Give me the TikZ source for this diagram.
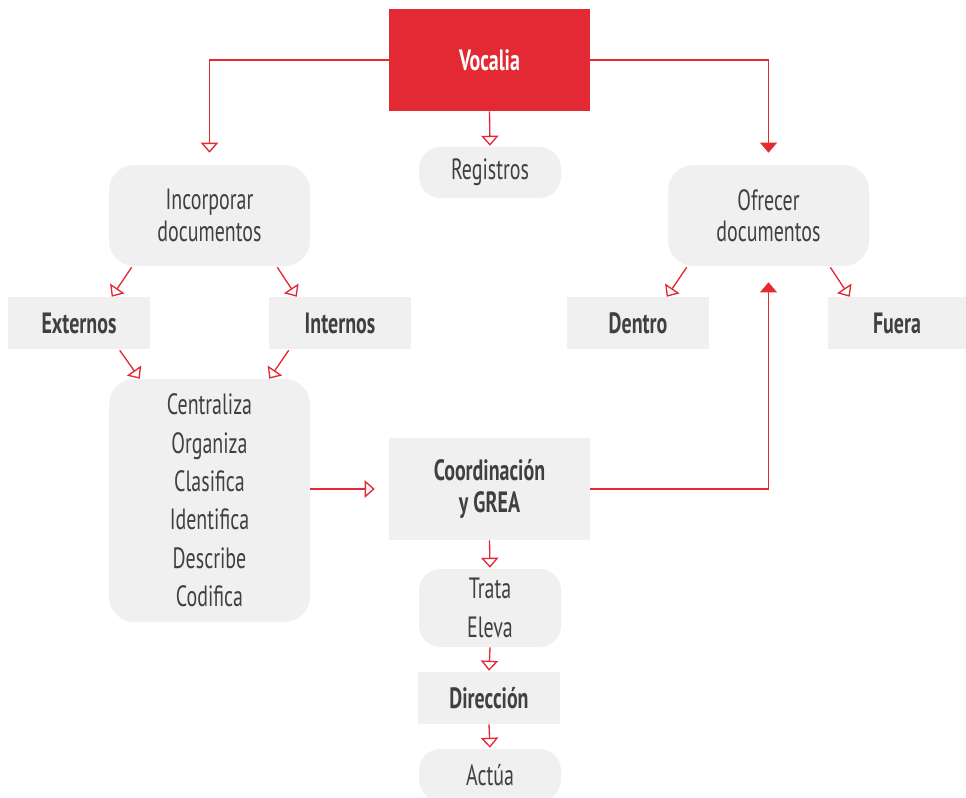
\documentclass[tikz,border=0pt]{standalone}
\usepackage{fontspec}
\setmainfont[FakeStretch=0.68]{PT Sans}
\usetikzlibrary{arrows.meta,calc}
\definecolor{vred}{RGB}{227,41,52}
\definecolor{vgray}{RGB}{240,240,240}
\definecolor{vtext}{RGB}{64,64,64}
\begin{document}
\begin{tikzpicture}[x=0.75pt,y=-0.75pt,
  box/.style={fill=vgray,draw=none,inner sep=0pt,align=center,text=vtext},
  rbig/.style={box,rounded corners=19pt,minimum width=150.75pt},
  rsmall/.style={box,rounded corners=16pt,minimum width=106.5pt},
  rect/.style={box,minimum width=106.5pt,minimum height=39pt,font=\fontsize{22}{24}\selectfont\bfseries},
  two/.style={font=\fontsize{22}{23.5}\selectfont},
  list/.style={font=\fontsize{22}{28.8}\selectfont},
  ln/.style={draw=vred,line width=1pt},
  oarr/.style={-{Triangle[open,length=7.5pt,width=13pt,line width=1pt]}},
  farr/.style={-{Triangle[length=7.5pt,width=12.5pt]}}
]
\useasboundingbox (0,0) rectangle (966,798);
% nodes
\node[box,fill=vred,text=white,minimum width=150.75pt,minimum height=76.5pt,font=\fontsize{22}{24}\selectfont\bfseries] (voc) at (489.5,60) {Vocalia};
\node[rsmall,minimum height=38.25pt,two] (reg) at (490,172.5) {Registros};
\node[rbig,minimum height=75.75pt,two] (inc) at (209.5,215.5) {Incorporar\\documentos};
\node[rbig,minimum height=75.75pt,two] (ofr) at (768.5,215.5) {Ofrecer\\documentos};
\node[rect] (ext) at (79,323) {Externos};
\node[rect] (int) at (340,323) {Internos};
\node[rect] (den) at (638,323) {Dentro};
\node[rect,minimum width=103.5pt] (fue) at (897,323) {Fuera};
\node[rbig,minimum height=182.25pt,list] (cen) at (209.5,500.5) {Centraliza\\Organiza\\Clasifica\\Identifica\\Describe\\Codifica};
\node[box,minimum width=150.75pt,minimum height=76.5pt,font=\fontsize{22}{23.5}\selectfont\bfseries] (coo) at (489.5,489) {Coordinación\\y GREA};
\node[rsmall,minimum height=58.5pt,list] (tra) at (490,608) {Trata\\Eleva};
\node[rect] (dir) at (489,698) {Dirección};
\node[rsmall,minimum height=39pt,two] (act) at (490,775) {Actúa};
% connectors
\draw[ln,oarr,shorten >=9pt] (voc.west) -| (inc.north);
\draw[ln,farr,shorten >=9pt] (voc.east) -| (ofr.north);
\draw[ln,oarr,shorten >=0.75pt] (voc.south) -- (reg.north);
\draw[ln,oarr] ($(inc.south west)+(23,1)$) -- ($(ext.north west)+(104,0)$);
\draw[ln,oarr] ($(inc.south east)+(-33,1)$) -- ($(int.north west)+(28,0)$);
\draw[ln,oarr] ($(ext.south west)+(112,1)$) -- ($(cen.north west)+(31,0)$);
\draw[ln,oarr] ($(int.south west)+(20,1)$) -- ($(cen.north east)+(-41,0)$);
\draw[ln,oarr] ($(ofr.south west)+(19,1)$) -- ($(den.north west)+(100,0)$);
\draw[ln,oarr] ($(ofr.south east)+(-39,1)$) -- ($(fue.north west)+(22,0)$);
\draw[ln,oarr,shorten >=10.5pt] (cen.east |- coo.west) -- (coo.west);
\draw[ln,farr,shorten >=12pt] (coo.east) -| (ofr.south);
\draw[ln,oarr,shorten >=0.75pt] (coo.south) -- (tra.north);
\draw[ln,oarr,shorten >=0.75pt] (tra.south) -- (dir.north);
\draw[ln,oarr,shorten >=0.75pt] (dir.south) -- (act.north);
\end{tikzpicture}
\end{document}
